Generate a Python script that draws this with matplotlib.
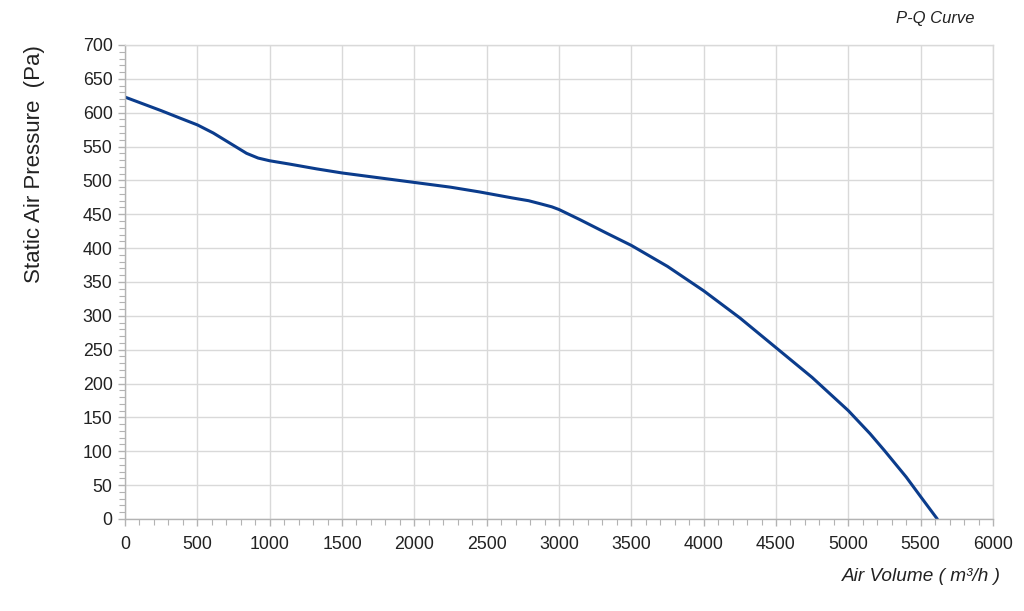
import matplotlib
matplotlib.use("Agg")
import matplotlib.pyplot as plt
from matplotlib.ticker import MultipleLocator

plt.rcParams['font.family'] = ['Liberation Sans', 'DejaVu Sans']

# air volume (m3/h) vs static pressure (Pa)
airflow = [0, 250, 380, 500, 610, 725, 840, 920, 1000, 1140, 1325, 1500,
           1750, 2000, 2250, 2450, 2680, 2790, 2880, 2950, 3000, 3145, 3330,
           3500, 3750, 4000, 4250, 4500, 4750, 5000, 5150, 5250, 5400, 5500,
           5615]
pressure = [623, 603, 592, 582, 570, 555, 540, 533, 529, 524, 517, 511,
            504, 497, 490, 483, 474, 470, 465, 461, 457, 442, 422,
            404, 373, 337, 297, 253, 209, 160, 126, 101, 62, 33,
            0]

grid_c = '#d9d9d9'
fig = plt.figure(figsize=(10.24, 6.11), dpi=100)
ax = fig.add_axes([0.1221, 0.1506, 0.8476, 0.7758])

ax.plot(airflow, pressure, color='#0b3c8c', lw=2.2,
        solid_capstyle='round', solid_joinstyle='round')

ax.set_xlim(0, 6000)
ax.set_ylim(0, 700)
ax.xaxis.set_major_locator(MultipleLocator(500))
ax.xaxis.set_minor_locator(MultipleLocator(100))
ax.yaxis.set_major_locator(MultipleLocator(50))
ax.yaxis.set_minor_locator(MultipleLocator(10))
ax.grid(True, which='major', color=grid_c, lw=1.0)
ax.set_axisbelow(True)
for s in ax.spines.values():
    s.set_color(grid_c)
    s.set_linewidth(1.0)
ax.spines['left'].set_color('#b3b3b3')
ax.spines['bottom'].set_color('#b3b3b3')

ax.tick_params(which='both', color='#b3b3b3', direction='out', labelsize=12.8,
               labelcolor='#222222')
ax.tick_params(which='major', length=5, width=1)
ax.tick_params(which='minor', length=4, width=0.8)
ax.tick_params(axis='x', pad=7)
ax.tick_params(axis='y', pad=4)

fig.text(0.034, 0.926, 'Static Air Pressure  (Pa)', rotation=90, fontsize=16,
         ha='center', va='top', color='#222222')
fig.text(0.977, 0.057, 'Air Volume ( m³/h )', fontsize=13.7, style='italic',
         ha='right', va='center', color='#222222')
fig.text(0.913, 0.970, 'P-Q Curve', fontsize=12, style='italic',
         ha='center', va='center', color='#222222')

fig.savefig('out.png', dpi=100)
